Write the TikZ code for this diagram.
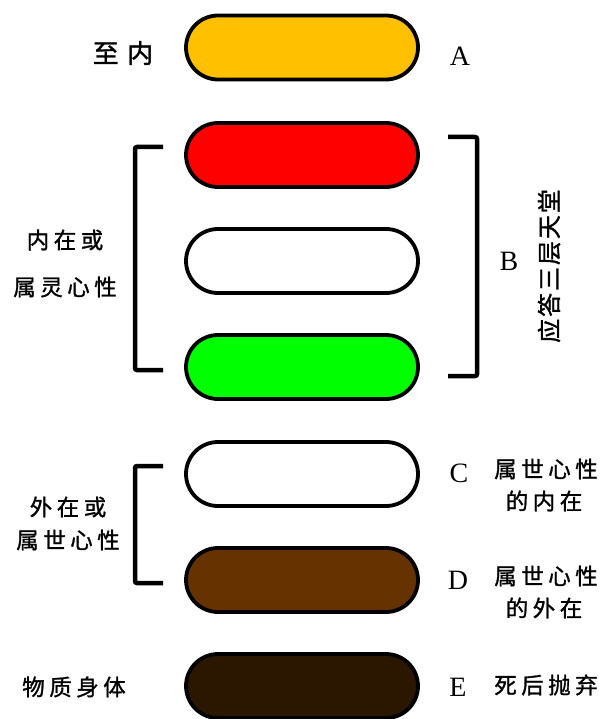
\documentclass[tikz,border=0pt]{standalone}
\usepackage{fontspec}
\setmainfont{Liberation Serif}
\newfontfamily\cjk[LetterSpace=20,FakeBold=1.2]{Noto Sans CJK SC}
\newfontfamily\cjkb[LetterSpace=32,FakeBold=1.2]{Noto Sans CJK SC}
\newfontfamily\cjkv[LetterSpace=8,FakeBold=1.2]{Noto Sans CJK SC}
\begin{document}
\begin{tikzpicture}[x=1pt,y=-1pt,
  pill/.style={draw=black, line width=3.8pt, rounded corners=32pt, minimum width=232pt, minimum height=64pt, inner sep=0pt},
  letter/.style={font=\fontsize{28}{28}\selectfont, inner sep=0pt},
  cn/.style={font=\cjk\fontsize{22.5}{22.5}\selectfont, inner sep=0pt},
  cnbig/.style={font=\cjkb\fontsize{26}{26}\selectfont, inner sep=0pt},
  brk/.style={line width=4.5pt, rounded corners=2pt}]
\useasboundingbox[fill=white] (0,0) rectangle (600,719);
\definecolor{cA}{HTML}{FFC000}
\definecolor{cD}{HTML}{663300}
\definecolor{cE}{HTML}{2B1700}
% pills
\node[pill, fill=cA] (pA) at (302,47.5) {};
\node[pill, fill=red] (pR) at (302,155) {};
\node[pill, fill=white] (pW) at (302,261) {};
\node[pill, fill=green] (pG) at (302,367) {};
\node[pill, fill=white] (pC) at (302,474) {};
\node[pill, fill=cD] (pD) at (302,580) {};
\node[pill, fill=cE] (pE) at (302,686) {};
% brackets
\coordinate (b1a) at (163,147);
\coordinate (b1b) at (135,147);
\coordinate (b1c) at (135,370);
\coordinate (b1d) at (163,370);
\draw[brk] (b1a) -- (b1b) -- (b1c) -- (b1d);
\coordinate (b2a) at (448,137);
\coordinate (b2b) at (477,137);
\coordinate (b2c) at (477,376);
\coordinate (b2d) at (448,376);
\draw[brk] (b2a) -- (b2b) -- (b2c) -- (b2d);
\coordinate (b3a) at (163,466);
\coordinate (b3b) at (135,466);
\coordinate (b3c) at (135,583);
\coordinate (b3d) at (163,583);
\draw[brk] (b3a) -- (b3b) -- (b3c) -- (b3d);
% left texts
\node[cnbig] (tZ) at (123,53) {至内};
\node[cn] (tL1) at (65,240) {内在或};
\node[cn] (tL2) at (65,287) {属灵心性};
\node[cn] (tL3) at (68,507) {外在或};
\node[cn] (tL4) at (68,540) {属世心性};
\node[cn] (tL5) at (74,687) {物质身体};
% letters
\node[letter] (lA) at (460,56) {A};
\node[letter] (lB) at (509,261) {B};
\node[letter] (lC) at (459,473) {C};
\node[letter] (lD) at (458,580) {D};
\node[letter] (lE) at (458,687) {E};
% right texts
\node[font=\cjkv\fontsize{24}{24}\selectfont, inner sep=0pt, rotate=90] (tV) at (549,266) {应答三层天堂};
\node[cn] (tC1) at (546,469) {属世心性};
\node[cn] (tC2) at (544,501) {的内在};
\node[cn] (tD1) at (546,576) {属世心性};
\node[cn] (tD2) at (544,608) {的外在};
\node[cn] (tE1) at (546,685) {死后抛弃};
\end{tikzpicture}
\end{document}
